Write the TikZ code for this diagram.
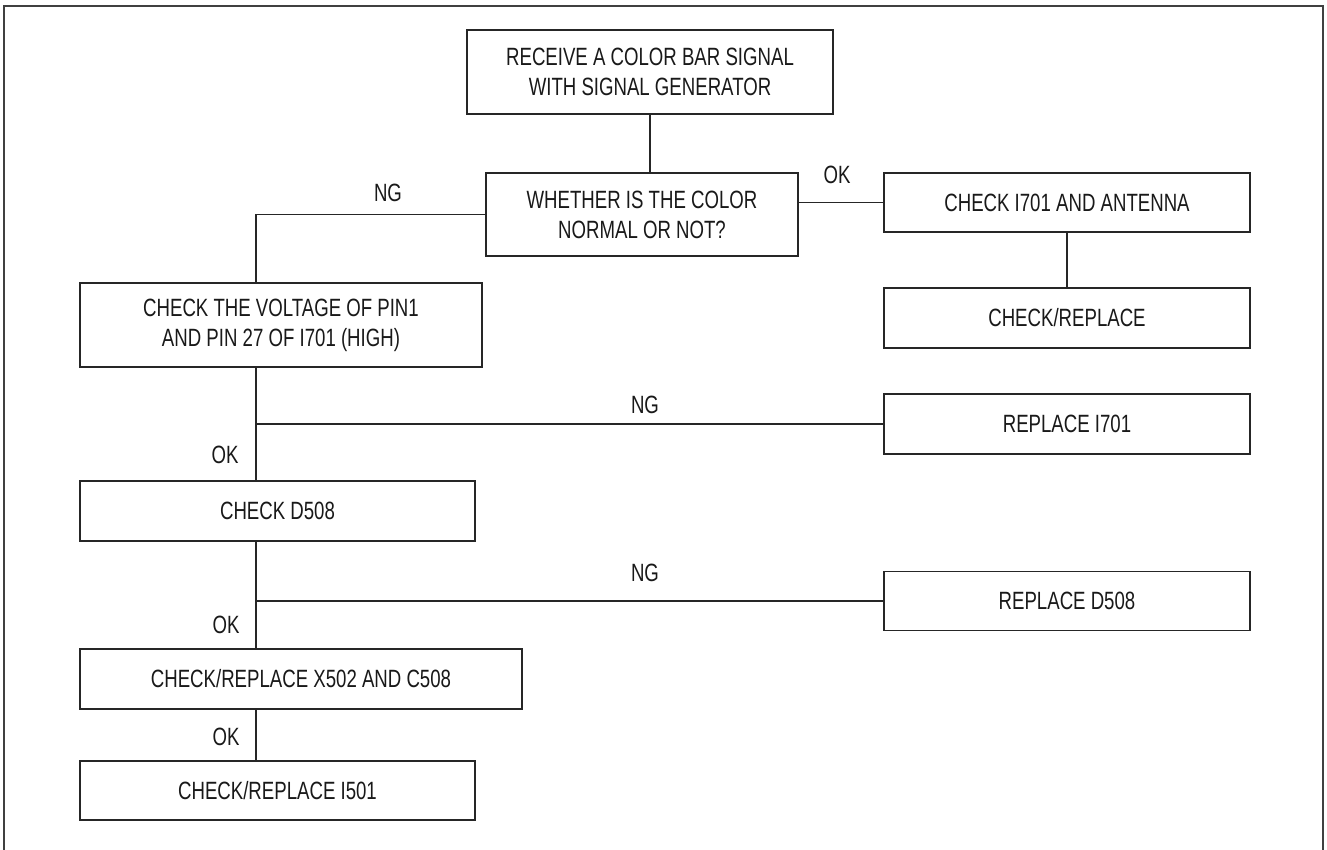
\documentclass[tikz,border=0pt]{standalone}
\usepackage{fontspec}
\setmainfont{Liberation Sans}[FakeStretch=0.745]
\begin{document}
\begin{tikzpicture}[x=1pt,y=-1pt,
  box/.style={draw=black!85, line width=1.3pt, rectangle, inner sep=0pt,
    align=center, font=\fontsize{25}{30}\selectfont, text=black!90},
  lbl/.style={inner sep=0pt, font=\fontsize{25}{30}\selectfont, text=black!90},
  link/.style={draw=black!85, line width=1.3pt}]
\useasboundingbox (0,0) rectangle (1327,850);
\draw[line width=2pt, black!75] (4,853) -- (4,6) -- (1323,6) -- (1323,853);
\coordinate (sp) at (256,0);
\node[box, minimum width=366pt, minimum height=84pt] (b1) at (650,72)
  {RECEIVE A COLOR BAR SIGNAL\\WITH SIGNAL GENERATOR};
\node[box, minimum width=312pt, minimum height=83pt] (b2) at (642,214.5)
  {WHETHER IS THE COLOR\\NORMAL OR NOT?};
\node[box, minimum width=366pt, minimum height=59pt] (b3) at (1067,202.5)
  {CHECK I701 AND ANTENNA};
\node[box, minimum width=366pt, minimum height=60pt] (b4) at (1067,318)
  {CHECK/REPLACE};
\node[box, minimum width=402pt, minimum height=84pt] (b5) at (281,325)
  {CHECK THE VOLTAGE OF PIN1\\AND PIN 27 OF I701 (HIGH)};
\node[box, minimum width=366pt, minimum height=60pt] (b6) at (1067,424)
  {REPLACE I701};
\node[box, minimum width=395pt, minimum height=60pt] (b7) at (277.5,511)
  {CHECK D508};
\node[box, minimum width=366pt, minimum height=59pt] (b8) at (1067,601)
  {REPLACE D508};
\node[box, minimum width=442pt, minimum height=60pt] (b9) at (301,679)
  {CHECK/REPLACE X502 AND C508};
\node[box, minimum width=395pt, minimum height=59pt] (b10) at (277.5,790.5)
  {CHECK/REPLACE I501};
% connectors
\draw[link] (b1.south) -- (b1.south |- b2.north);
\draw[link] (b3.west) -- (b3.west -| b2.east);
\draw[link] (b3.south) -- (b4.north);
\draw[link] (b2.west) -| (b5.north -| sp);
\draw[link] (b5.south -| sp) -- (b7.north -| sp);
\draw[link] (b6.west) -- (b6.west -| sp);
\draw[link] (b7.south -| sp) -- (b9.north -| sp);
\draw[link] (b8.west) -- (b8.west -| sp);
\draw[link] (b9.south -| sp) -- (b10.north -| sp);
% labels
\node[lbl] (l1) at (837,175) {OK};
\node[lbl] (l2) at (388,193) {NG};
\node[lbl] (l3) at (645,405) {NG};
\node[lbl] (l4) at (225,455) {OK};
\node[lbl] (l5) at (645,573) {NG};
\node[lbl] (l6) at (226,625) {OK};
\node[lbl] (l7) at (226,737) {OK};
\end{tikzpicture}
\end{document}
